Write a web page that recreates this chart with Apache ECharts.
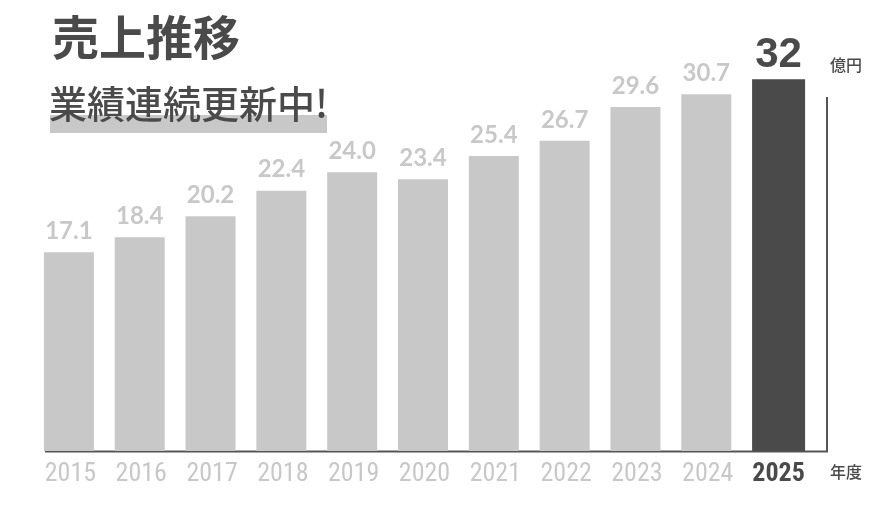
<!DOCTYPE html>
<html><head><meta charset="utf-8">
<script src="https://cdn.jsdelivr.net/npm/echarts@6/dist/echarts.min.js"></script>
<style>html,body{margin:0;padding:0;background:#fff}#c{width:876px;height:514px}</style>
</head><body><div id="c"></div>
<script>
const categories = ['2015','2016','2017','2018','2019','2020','2021','2022','2023','2024','2025'];
const sales = [17.1, 18.4, 20.2, 22.4, 24.0, 23.4, 25.4, 26.7, 29.6, 30.7, 32];
const highlightIndex = 10;
const title = '売上推移';
const subtitle = '業績連続更新中!';
const unitLabel = '億円';
const axisLabelText = '年度';

const GRAY = '#c8c8c8', DARK = '#4a4a4a';
const NARROW = '"Liberation Sans Narrow","Roboto Condensed",Roboto,sans-serif';
const chart = echarts.init(document.getElementById('c'));
chart.setOption({
  animation: false,
  grid: {left: 35, right: 62, top: 56, bottom: 63},
  xAxis: {
    type: 'category', data: categories,
    axisLine: {show: false},
    axisTick: {show: false},
    axisLabel: {
      interval: 0,
      margin: 10,
      fontFamily: NARROW,
      fontSize: 26,
      formatter: (v, i) => i === highlightIndex ? '{h|' + v + '}' : '{n|' + v + '}',
      rich: {
        n: {color: GRAY, fontSize: 26, fontFamily: NARROW},
        h: {color: DARK, fontSize: 26, fontWeight: 'bold', fontFamily: NARROW}
      }
    }
  },
  yAxis: {type: 'value', min: 0, max: 34, show: false, splitLine: {show: false}},
  series: [{
    type: 'bar',
    barWidth: 50,
    barGap: '-100%',
    itemStyle: {color: GRAY},
    label: {
      show: true, position: 'top', distance: 9,
      color: GRAY, fontSize: 24, fontWeight: 'bold',
      fontFamily: 'Lato, "Open Sans", sans-serif',
      formatter: p => p.value.toFixed(1)
    },
    data: sales.map((v, i) => i === highlightIndex ? null : v)
  }, {
    type: 'bar',
    barWidth: 53,
    itemStyle: {color: DARK},
    label: {
      show: true, position: 'top', distance: 3,
      color: DARK, fontSize: 42, fontWeight: 'bold',
      fontFamily: '"Liberation Sans", Arial, sans-serif',
      formatter: '{c}'
    },
    data: sales.map((v, i) => i === highlightIndex ? v : null)
  }],
  graphic: [
    {type: 'rect', left: 50, top: 115, shape: {width: 277, height: 18}, style: {fill: GRAY}, z: 0},
    {type: 'text', left: 52, top: 14, style: {text: title, fill: DARK, font: 'bold 47px "Noto Sans CJK JP", sans-serif'}, z: 2},
    {type: 'text', left: 49, top: 85, style: {text: subtitle, fill: DARK, font: '500 38px "Noto Sans CJK JP", sans-serif'}, z: 2},
    {type: 'text', left: 830, top: 57, style: {text: unitLabel, fill: DARK, font: '500 16px "Noto Sans CJK JP", sans-serif'}},
    {type: 'text', left: 830, top: 464, style: {text: axisLabelText, fill: DARK, font: '500 16px "Noto Sans CJK JP", sans-serif'}},
    {type: 'line', shape: {x1: 45, y1: 451.5, x2: 828, y2: 451.5}, style: {stroke: '#555', lineWidth: 2}},
    {type: 'line', shape: {x1: 827, y1: 97, x2: 827, y2: 452}, style: {stroke: '#555', lineWidth: 2}}
  ]
});
</script></body></html>
